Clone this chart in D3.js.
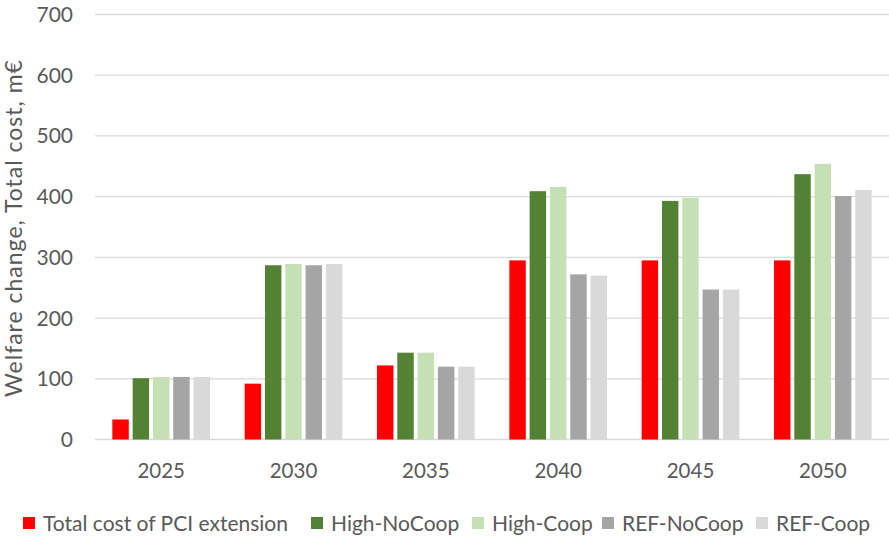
<!DOCTYPE html>
<html>
<head>
<meta charset="utf-8">
<script src="https://cdn.jsdelivr.net/npm/d3@7"></script>
<style>
  html, body { margin: 0; padding: 0; background: #fff; }
  svg { display: block; }
  text { font-family: Lato, "Open Sans", sans-serif; fill: #595959; }
</style>
</head>
<body>
<svg id="chart" width="889" height="538"></svg>
<script>
// Years on the category axis
const years = ["2025", "2030", "2035", "2040", "2045", "2050"];

// Series names and values (m€)
const seriesNames = ["Total cost of PCI extension", "High-NoCoop", "High-Coop", "REF-NoCoop", "REF-Coop"];
const totalCost  = [33, 92, 122, 295, 295, 295];
const highNoCoop = [101, 287, 143, 409, 393, 437];
const highCoop   = [103, 289, 143, 416, 398, 454];
const refNoCoop  = [103, 287, 120, 272, 247, 401];
const refCoop    = [103, 289, 120, 270, 247, 411];
const seriesValues = [totalCost, highNoCoop, highCoop, refNoCoop, refCoop];
const seriesColors = ["#FF0000", "#548235", "#C5E0B4", "#A5A5A5", "#D9D9D9"];

// Value axis ticks
const yTicks = [0, 100, 200, 300, 400, 500, 600, 700];

const svg = d3.select("#chart");
const plotLeft = 95, plotRight = 889, plotTop = 14.5, plotBottom = 439.5;

const x0 = d3.scaleBand().domain(years).range([plotLeft, plotRight]).paddingInner(0.262).paddingOuter(0.131);
const x1 = d3.scaleBand().domain(d3.range(seriesNames.length)).range([0, x0.bandwidth()]).paddingInner(0.19).paddingOuter(0);
const y = d3.scaleLinear().domain([0, 700]).range([plotBottom, plotTop]);

// Horizontal gridlines
svg.append("g")
  .selectAll("line")
  .data(yTicks)
  .join("line")
  .attr("x1", plotLeft).attr("x2", plotRight)
  .attr("y1", d => y(d)).attr("y2", d => y(d))
  .attr("stroke", "#D9D9D9")
  .attr("stroke-width", 1.3);

// Y tick labels
svg.append("g")
  .selectAll("text")
  .data(yTicks)
  .join("text")
  .attr("x", 73)
  .attr("y", d => y(d))
  .attr("dy", "0.36em")
  .attr("text-anchor", "end")
  .style("font-size", "21px")
  .text(d => d);

// Y axis title
svg.append("text")
  .attr("transform", `translate(22,228) rotate(-90)`)
  .attr("text-anchor", "middle")
  .style("font-size", "23px")
  .style("letter-spacing", "1px")
  .text("Welfare change, Total cost, m€");

// Bars
const groups = svg.append("g")
  .selectAll("g")
  .data(years)
  .join("g")
  .attr("transform", d => `translate(${x0(d)},0)`);

groups.selectAll("rect")
  .data((d, i) => seriesValues.map((vals, s) => ({ s, v: vals[i] })))
  .join("rect")
  .attr("x", d => x1(d.s))
  .attr("width", x1.bandwidth())
  .attr("y", d => y(d.v))
  .attr("height", d => y(0) - y(d.v))
  .attr("fill", d => seriesColors[d.s]);

// Category labels
svg.append("g")
  .selectAll("text")
  .data(years)
  .join("text")
  .attr("x", d => x0(d) + x0.bandwidth() / 2)
  .attr("y", 478)
  .attr("text-anchor", "middle")
  .style("font-size", "20.5px")
  .text(d => d);

// Legend
const legendX = [23, 311, 472, 602, 756];
const legend = svg.append("g")
  .selectAll("g")
  .data(seriesNames)
  .join("g")
  .attr("transform", (d, i) => `translate(${legendX[i]},0)`);

legend.append("rect")
  .attr("x", 0).attr("y", 517)
  .attr("width", 12).attr("height", 12)
  .attr("fill", (d, i) => seriesColors[i]);

legend.append("text")
  .attr("x", 20)
  .attr("y", 531)
  .style("font-size", "21px")
  .text(d => d);
</script>
</body>
</html>
